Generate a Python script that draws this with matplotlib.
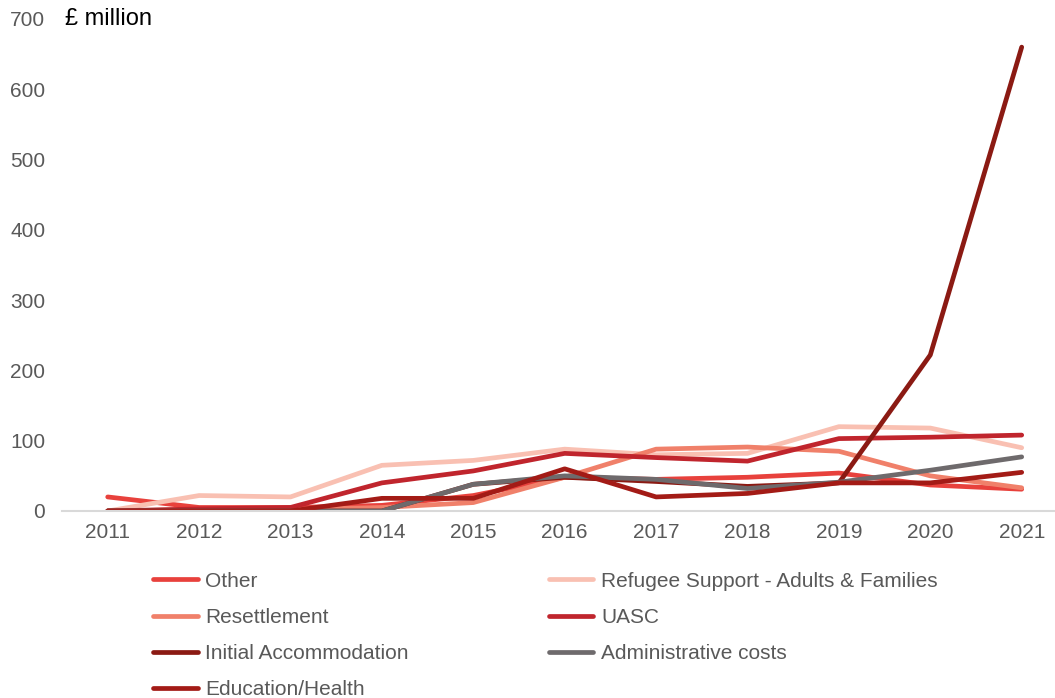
import numpy as np
import matplotlib
matplotlib.use("Agg")
from matplotlib import pyplot as plt

plt.rcParams['font.family'] = ['Liberation Sans', 'DejaVu Sans']

years = [2011, 2012, 2013, 2014, 2015, 2016, 2017, 2018, 2019, 2020, 2021]

other          = [20, 5, 5, 8, 22, 48, 45, 48, 54, 37, 31]
refugee        = [0, 22, 20, 65, 72, 88, 80, 82, 120, 118, 90]
resettlement   = [0, 2, 2, 5, 12, 48, 88, 91, 85, 50, 33]
uasc           = [0, 3, 5, 40, 57, 82, 76, 71, 103, 105, 108]
initial_accom  = [0, 0, 0, 0, 38, 48, 42, 35, 40, 222, 660]
admin          = [0, 0, 0, 0, 38, 50, 45, 32, 41, 58, 77]
edu_health     = [0, 0, 0, 18, 18, 60, 20, 25, 40, 40, 55]

series = [
  ("Other", other, '#E8413C'),
  ("Refugee Support - Adults & Families", refugee, '#F9C0B2'),
  ("Resettlement", resettlement, '#F0806A'),
  ("UASC", uasc, '#C0252D'),
  ("Initial Accommodation", initial_accom, '#8B1A13'),
  ("Administrative costs", admin, '#6E6A6C'),
  ("Education/Health", edu_health, '#A31B16'),
]

fig = plt.figure(figsize=(10.55, 6.98), dpi=100)
ax = fig.add_axes([62/1055, 187/698, 1 - 62/1055, (511-19)/698])

handles = {}
for name, vals, col in series:
  ln, = ax.plot(years, vals, color=col, lw=3.4, solid_capstyle='round',
                solid_joinstyle='round', label=name)
  handles[name] = ln

ax.set_ylim(0, 700)
ax.set_xlim(2010.5, 2010.5 + (1055-62)/91.4)
ax.set_yticks(np.arange(0, 701, 100))
ax.set_xticks(years)
ax.tick_params(length=0, labelsize=15, colors='#595959')
ax.tick_params(axis='x', pad=9)
ax.tick_params(axis='y', pad=12)
for s in ['top', 'right', 'left']:
  ax.spines[s].set_visible(False)
ax.spines['bottom'].set_color('#D9D9D9')
ax.spines['bottom'].set_linewidth(1.5)

ax.text(65/1055, 1 - 19/698, u"\u00a3 million", transform=fig.transFigure,
        fontsize=17, color='black', va='center', ha='left')

order = ["Other", "Resettlement", "Initial Accommodation", "Education/Health",
         "Refugee Support - Adults & Families", "UASC", "Administrative costs"]
leg = fig.legend([handles[n] for n in order], order, ncol=2,
                 loc='upper left', bbox_to_anchor=(134/1055, 1 - 553/698),
                 frameon=False, fontsize=15, handlelength=2.15,
                 handletextpad=0.38, columnspacing=6.7, labelspacing=0.82)
for t in leg.get_texts():
  t.set_color('#595959')

fig.savefig('out.png', dpi=100)
